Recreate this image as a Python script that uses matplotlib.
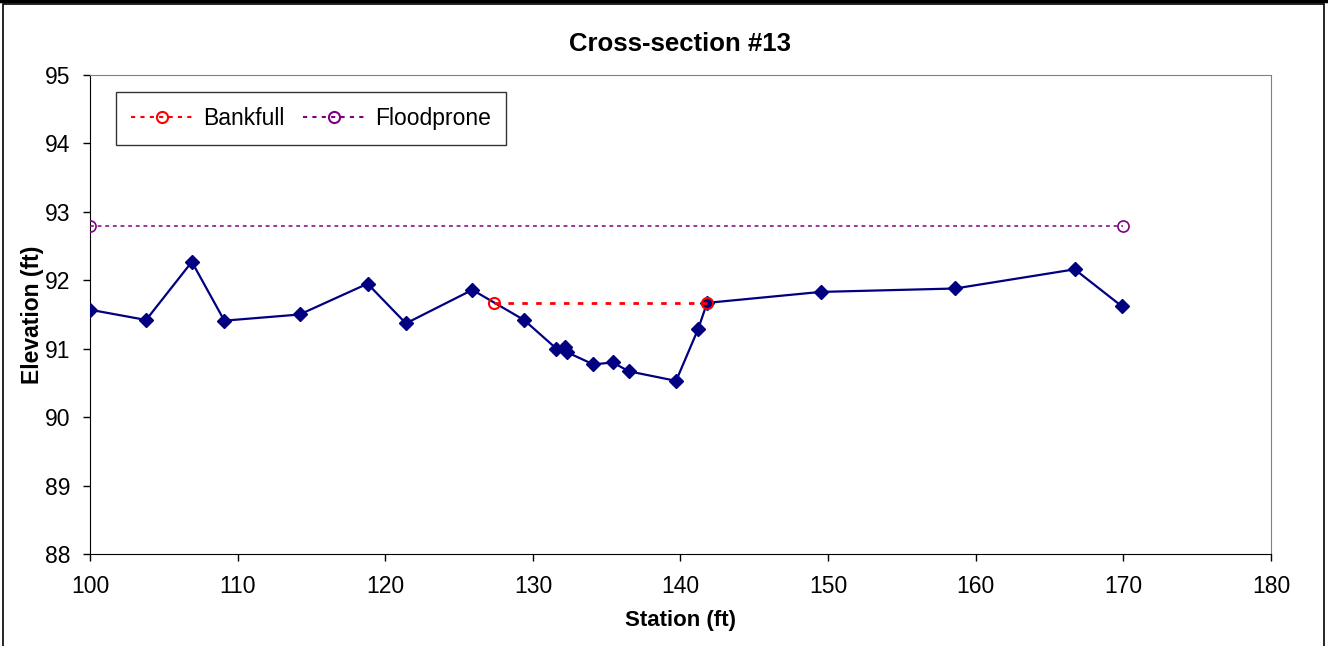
import matplotlib.pyplot as plt
from matplotlib.lines import Line2D
from matplotlib.patches import Rectangle

plt.rcParams['font.family'] = ['Liberation Sans', 'DejaVu Sans']

# ground profile
station = [100.0, 103.8, 106.9, 109.1, 114.2, 118.8, 121.4, 125.9, 129.4, 131.6,
           132.2, 132.3, 134.1, 135.4, 136.5, 139.7, 141.2, 141.8, 149.5, 158.6,
           166.7, 169.9]
elevation = [91.57, 91.42, 92.27, 91.41, 91.50, 91.95, 91.37, 91.86, 91.42, 91.00,
             91.03, 90.95, 90.77, 90.80, 90.67, 90.53, 91.29, 91.67, 91.83, 91.88,
             92.16, 91.62]

bank_x = [127.4, 141.8]
bank_y = [91.67, 91.67]
flood_x = [100.0, 170.0]
flood_y = [92.8, 92.8]

W, H = 1328, 646
fig = plt.figure(figsize=(W / 100, H / 100), dpi=100)
ax = fig.add_axes([90 / W, 1 - 554 / H, (1271 - 90) / W, (554 - 75) / H])

ax.plot(station, elevation, color='#000080', lw=1.6, marker='D', ms=7.5, zorder=3)
ax.plot(bank_x, bank_y, color='#ff0000', lw=2, ls=(0, (2, 3)), marker='o', ms=8,
        mfc='none', mew=1.5, label='Bankfull', zorder=4)
ax.plot(flood_x, flood_y, color='#800080', lw=1.1, ls=(0, (2.5, 2.5)), marker='o', ms=8,
        mfc='none', mew=1.2, label='Floodprone', zorder=4)

ax.set_xlim(100, 180)
ax.set_ylim(88, 95)
ax.set_xticks(range(100, 181, 10))
ax.set_yticks(range(88, 96))
ax.tick_params(labelsize=16.5, direction='out', length=5, width=1)
ax.tick_params(axis='x', pad=10)
ax.tick_params(axis='y', pad=9)
ax.set_xlabel('Station (ft)', fontsize=16, fontweight='bold', labelpad=9)
ax.set_ylabel('Elevation (ft)', fontsize=16.5, fontweight='bold', labelpad=1)
ax.set_title('Cross-section #13', fontsize=18.5, fontweight='bold', pad=17)

for s in ['top', 'right']:
    ax.spines[s].set_color('#808080')
for s in ['left', 'bottom']:
    ax.spines[s].set_color('black')

# legend handles drawn with a looser dot pattern like the original
handles = [
    Line2D([], [], color='#ff0000', lw=1.5, ls=(0, (2, 2.5)), marker='o', ms=8,
           mfc='none', mew=1.5),
    Line2D([], [], color='#800080', lw=1.5, ls=(0, (2, 2.5)), marker='o', ms=8,
           mfc='none', mew=1.5),
]
leg = ax.legend(handles, ['Bankfull', 'Floodprone'], loc='upper left',
                bbox_to_anchor=(116 / W, 1 - 92 / H), bbox_transform=fig.transFigure,
                borderaxespad=0, ncol=2, fontsize=16.5, frameon=True, fancybox=False,
                edgecolor='black', handlelength=2.7, columnspacing=0.8,
                handletextpad=0.45, borderpad=0.65)
leg.get_frame().set_linewidth(1)

# outer chart border
fig.patches.append(Rectangle((3 / W, -0.01), (1324 - 3) / W, 1 - 4 / H + 0.01,
                             transform=fig.transFigure, fill=False,
                             edgecolor='black', lw=1.2))
fig.add_artist(Line2D([0, 1], [1 - 1 / H, 1 - 1 / H], transform=fig.transFigure,
                      color='black', lw=2.5))

fig.savefig('out.png', dpi=100)
